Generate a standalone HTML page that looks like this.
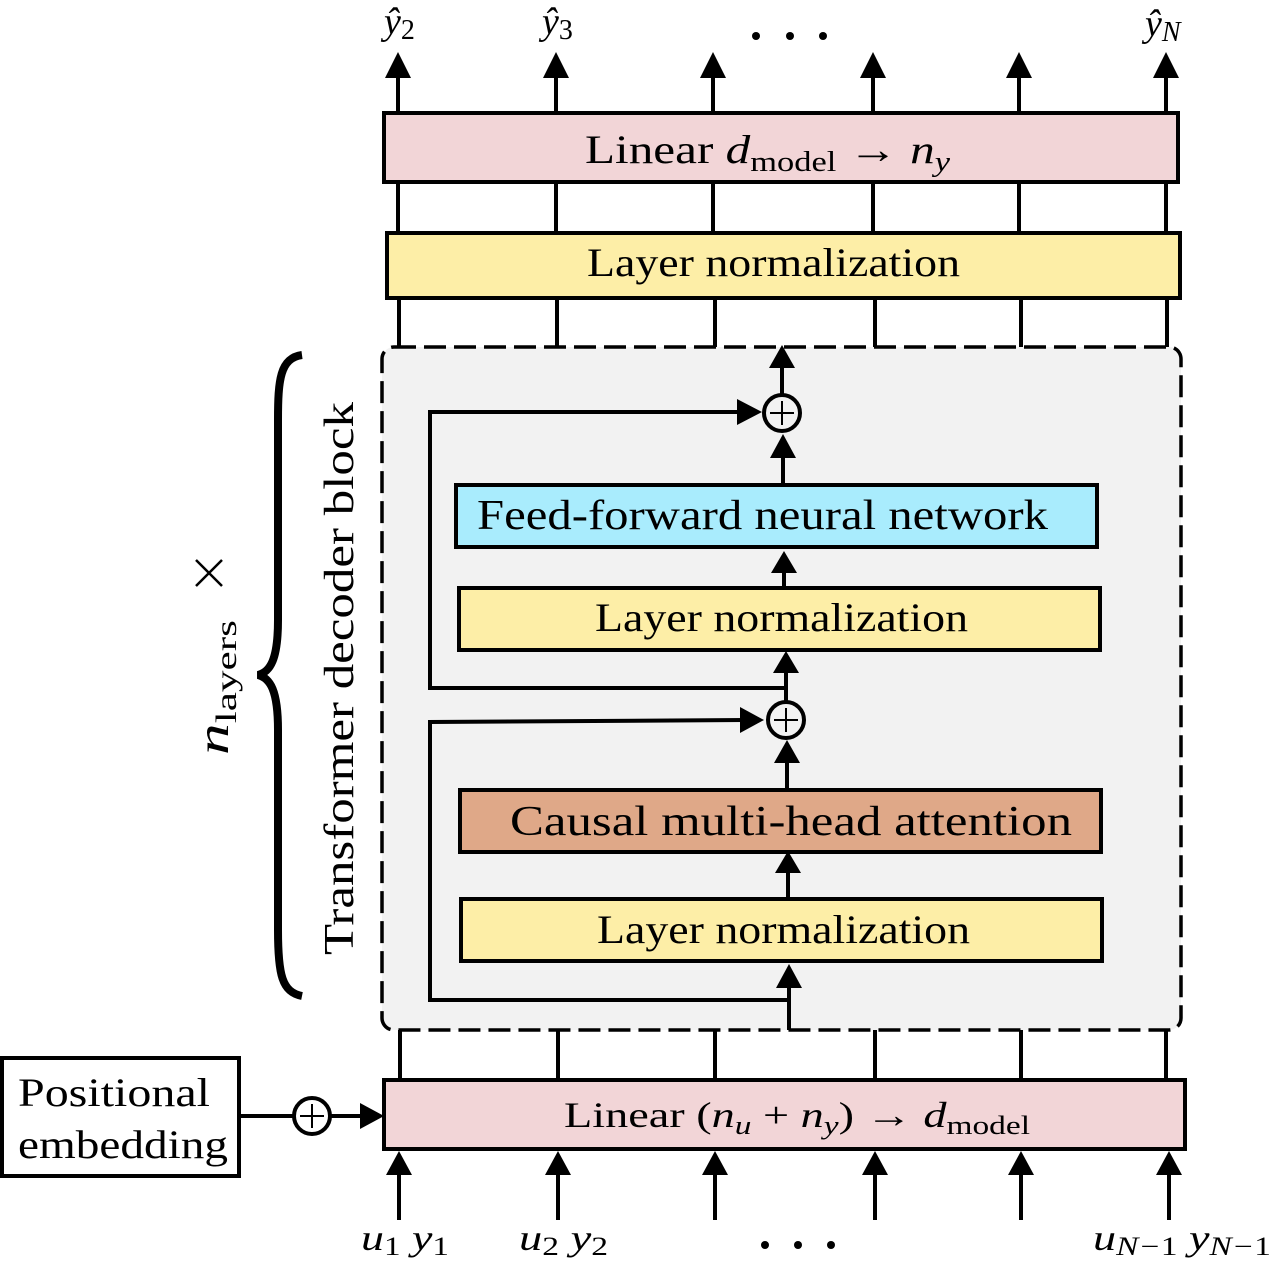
<!DOCTYPE html>
<html><head><meta charset="utf-8"><style>
html,body{margin:0;padding:0;background:#fff;}
svg{display:block;}
text{font-family:"Liberation Serif",serif;fill:#000;}
.i{font-style:italic;}
</style></head><body>
<svg width="1273" height="1261" viewBox="0 0 1273 1261" xmlns="http://www.w3.org/2000/svg">
<g stroke="#000" stroke-width="4" fill="none">
<line x1="398" y1="113" x2="398" y2="72"/><line x1="556" y1="113" x2="556" y2="72"/><line x1="713" y1="113" x2="713" y2="72"/><line x1="873" y1="113" x2="873" y2="72"/><line x1="1019" y1="113" x2="1019" y2="72"/><line x1="1166" y1="113" x2="1166" y2="72"/>
<line x1="398" y1="182" x2="398" y2="233"/><line x1="556" y1="182" x2="556" y2="233"/><line x1="713" y1="182" x2="713" y2="233"/><line x1="873" y1="182" x2="873" y2="233"/><line x1="1019" y1="182" x2="1019" y2="233"/><line x1="1166" y1="182" x2="1166" y2="233"/>
<line x1="399" y1="298" x2="399" y2="347"/><line x1="557" y1="298" x2="557" y2="347"/><line x1="715" y1="298" x2="715" y2="347"/><line x1="875" y1="298" x2="875" y2="347"/><line x1="1021" y1="298" x2="1021" y2="347"/><line x1="1167" y1="298" x2="1167" y2="347"/>
<line x1="400" y1="1030" x2="400" y2="1080"/><line x1="558" y1="1030" x2="558" y2="1080"/><line x1="715" y1="1030" x2="715" y2="1080"/><line x1="875" y1="1030" x2="875" y2="1080"/><line x1="1021" y1="1030" x2="1021" y2="1080"/><line x1="1166" y1="1030" x2="1166" y2="1080"/>
<line x1="399" y1="1220" x2="399" y2="1170"/><line x1="558" y1="1220" x2="558" y2="1170"/><line x1="715" y1="1220" x2="715" y2="1170"/><line x1="875" y1="1220" x2="875" y2="1170"/><line x1="1021" y1="1220" x2="1021" y2="1170"/><line x1="1169" y1="1220" x2="1169" y2="1170"/>
</g>
<g fill="#000">
<polygon points="385,78 411,78 398,52"/><polygon points="543,78 569,78 556,52"/><polygon points="700,78 726,78 713,52"/><polygon points="860,78 886,78 873,52"/><polygon points="1006,78 1032,78 1019,52"/><polygon points="1153,78 1179,78 1166,52"/>
<polygon points="386,1175 412,1175 399,1151"/><polygon points="545,1175 571,1175 558,1151"/><polygon points="702,1175 728,1175 715,1151"/><polygon points="862,1175 888,1175 875,1151"/><polygon points="1008,1175 1034,1175 1021,1151"/><polygon points="1156,1175 1182,1175 1169,1151"/>
</g>
<rect x="384" y="113" width="794" height="69" fill="#f2d5d7" stroke="#000" stroke-width="4"/>
<rect x="387" y="233" width="793" height="65" fill="#fdeea7" stroke="#000" stroke-width="4"/>
<rect x="382" y="347" width="799" height="683" rx="12" fill="#f2f2f2" stroke="#000" stroke-width="3.5" stroke-dasharray="22,8"/>
<rect x="384" y="1080" width="801" height="69" fill="#f2d5d7" stroke="#000" stroke-width="4"/>
<rect x="2" y="1058" width="237" height="118" fill="#fff" stroke="#000" stroke-width="4"/>
<g stroke="#000" stroke-width="4" fill="none">
<line x1="782" y1="395" x2="782" y2="365"/>
<line x1="783" y1="485" x2="783" y2="455"/>
<line x1="784" y1="588" x2="784" y2="570"/>
<line x1="786" y1="702" x2="786" y2="670"/>
<line x1="787" y1="790" x2="787" y2="760"/>
<line x1="788" y1="899" x2="788" y2="870"/>
<line x1="789" y1="1030" x2="789" y2="985"/>
<polyline points="786,688 430,688 430,412 740,412"/>
<polyline points="789,1000 430,1000 430,722 745,720"/>
<line x1="239" y1="1116" x2="293" y2="1116"/>
<line x1="331" y1="1116" x2="362" y2="1116"/>
</g>
<g fill="#000">
<polygon points="769,368 795,368 782,345"/>
<polygon points="770,458 796,458 783,434"/>
<polygon points="771,573 797,573 784,551"/>
<polygon points="773,673 799,673 786,651"/>
<polygon points="774,763 800,763 787,740"/>
<polygon points="775,873 801,873 788,851"/>
<polygon points="776,988 802,988 789,964"/>
<polygon points="737,399 737,425 762,412"/>
<polygon points="740,707 740,733 764,720"/>
<polygon points="360,1103 360,1129 384,1116"/>
</g>
<g stroke="#000" fill="#f2f2f2">
<circle cx="782" cy="413" r="18" stroke-width="4"/>
<circle cx="786" cy="720" r="18" stroke-width="4"/>
<circle cx="312" cy="1116" r="18" stroke-width="4" fill="#fff"/>
<path d="M770 413h24M782 401v24M774 720h24M786 708v24M300 1116h24M312 1104v24" stroke-width="2"/>
</g>
<rect x="456" y="485" width="641" height="62" fill="#a9ecfd" stroke="#000" stroke-width="4"/>
<rect x="459" y="588" width="641" height="62" fill="#fdeea7" stroke="#000" stroke-width="4"/>
<rect x="460" y="790" width="641" height="62" fill="#dfa888" stroke="#000" stroke-width="4"/>
<rect x="461" y="899" width="641" height="62" fill="#fdeea7" stroke="#000" stroke-width="4"/>
<path d="M302 355 C280 358 278 380 278 420 L278 620 C278 660 270 672 258 675 C270 678 278 690 278 730 L278 930 C278 975 282 992 302 996" stroke="#000" stroke-width="8" fill="none"/>
<text x="585" y="163" font-size="40" textLength="365" lengthAdjust="spacingAndGlyphs">Linear <tspan class="i">d</tspan><tspan font-size="28" dy="8">model</tspan><tspan dy="-8"> → </tspan><tspan class="i">n</tspan><tspan class="i" font-size="28" dy="8">y</tspan></text>
<text x="587" y="276" font-size="40" textLength="373" lengthAdjust="spacingAndGlyphs">Layer normalization</text>
<text x="477" y="529" font-size="42" textLength="571" lengthAdjust="spacingAndGlyphs">Feed-forward neural network</text>
<text x="595" y="631" font-size="40" textLength="373" lengthAdjust="spacingAndGlyphs">Layer normalization</text>
<text x="510" y="835" font-size="42" textLength="562" lengthAdjust="spacingAndGlyphs">Causal multi-head attention</text>
<text x="597" y="943" font-size="40" textLength="373" lengthAdjust="spacingAndGlyphs">Layer normalization</text>
<text x="564" y="1127" font-size="36" textLength="466" lengthAdjust="spacingAndGlyphs">Linear (<tspan class="i">n</tspan><tspan class="i" font-size="26" dy="7">u</tspan><tspan dy="-7"> + </tspan><tspan class="i">n</tspan><tspan class="i" font-size="26" dy="7">y</tspan><tspan dy="-7">) → </tspan><tspan class="i">d</tspan><tspan font-size="26" dy="7">model</tspan></text>
<text x="18" y="1106" font-size="40" textLength="192" lengthAdjust="spacingAndGlyphs">Positional</text>
<text x="18" y="1158" font-size="40" textLength="210" lengthAdjust="spacingAndGlyphs">embedding</text>
<text transform="translate(353,955) rotate(-90)" font-size="42" textLength="553" lengthAdjust="spacingAndGlyphs">Transformer decoder block</text>
<text transform="translate(228,755) rotate(-90)" font-size="44" textLength="135" lengthAdjust="spacingAndGlyphs"><tspan class="i">n</tspan><tspan font-size="30" dy="8">layers</tspan></text>
<path d="M196 560 L222 586 M222 560 L196 586" stroke="#000" stroke-width="2.5"/>
<text x="384" y="34" font-size="38" class="i">ŷ<tspan font-size="28" dy="5" font-style="normal">2</tspan></text>
<text x="542" y="34" font-size="38" class="i">ŷ<tspan font-size="28" dy="5" font-style="normal">3</tspan></text>
<text x="1145" y="36" font-size="38" class="i">ŷ<tspan font-size="28" dy="5">N</tspan></text>
<g fill="#000"><circle cx="756" cy="36" r="4"/><circle cx="790" cy="36" r="4"/><circle cx="823" cy="36" r="4"/>
<circle cx="765" cy="1245" r="4"/><circle cx="798" cy="1245" r="4"/><circle cx="831" cy="1245" r="4"/></g>
<text x="361" y="1250" font-size="36" class="i" textLength="88" lengthAdjust="spacingAndGlyphs">u<tspan font-size="26" dy="5" font-style="normal">1</tspan><tspan dy="-5"> y</tspan><tspan font-size="26" dy="5" font-style="normal">1</tspan></text>
<text x="519" y="1250" font-size="36" class="i" textLength="89" lengthAdjust="spacingAndGlyphs">u<tspan font-size="26" dy="5" font-style="normal">2</tspan><tspan dy="-5"> y</tspan><tspan font-size="26" dy="5" font-style="normal">2</tspan></text>
<text x="1093" y="1250" font-size="36" class="i" textLength="178" lengthAdjust="spacingAndGlyphs">u<tspan font-size="26" dy="5">N−<tspan font-style="normal">1</tspan></tspan><tspan dy="-5"> y</tspan><tspan font-size="26" dy="5">N−<tspan font-style="normal">1</tspan></tspan></text>
</svg>
</body></html>
